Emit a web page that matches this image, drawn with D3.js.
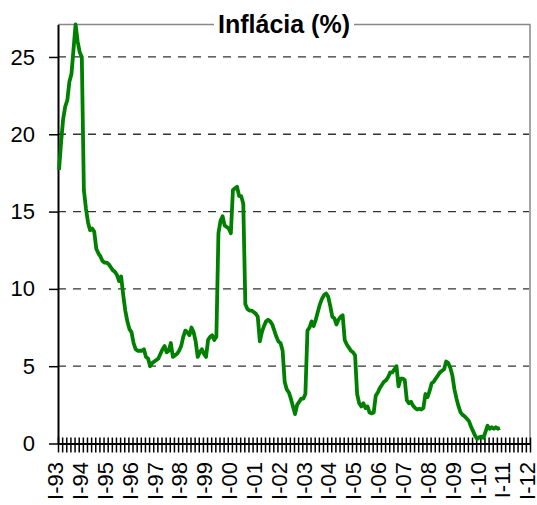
<!DOCTYPE html>
<html><head><meta charset="utf-8">
<script src="https://cdn.jsdelivr.net/npm/d3@7"></script>
<style>
html,body{margin:0;padding:0;background:#fff;}
svg{display:block;font-family:"Liberation Sans",Arial,sans-serif;}
</style>
</head><body>
<svg id="chart" width="537" height="505"></svg>
<script>
// ---- data ----
const chartTitle = "Inflácia (%)";
const yearLabels = ["I-93","I-94","I-95","I-96","I-97","I-98","I-99","I-00","I-01","I-02",
                    "I-03","I-04","I-05","I-06","I-07","I-08","I-09","I-10","I-11","I-12"];
const yTicks = [0, 5, 10, 15, 20, 25];
const yMax = 27.1;
// monthly year-on-year inflation, Jan 1993 .. Oct 2010
const inflation = [
  17.7, 19.5, 21.0, 21.8, 22.2, 23.4, 23.9, 25.5, 27.1, 26.0, 25.3, 25.0,   // 1993
  16.4, 15.2, 14.3, 13.8, 13.9, 13.7, 12.6, 12.3, 12.1, 11.8, 11.7, 11.7,   // 1994
  11.6, 11.4, 11.2, 11.1, 10.9, 10.5, 10.8, 9.6, 8.6, 7.9, 7.4, 7.2,        // 1995
  6.5, 6.1, 6.0, 6.0, 6.0, 6.1, 5.6, 5.5, 5.0, 5.2, 5.3, 5.4,               // 1996
  5.5, 5.8, 6.1, 6.3, 5.9, 6.0, 6.5, 5.6, 5.7, 5.8, 6.0, 6.3,               // 1997
  6.9, 7.3, 7.2, 7.0, 7.5, 7.2, 6.6, 5.6, 5.9, 6.1, 5.8, 5.6,               // 1998
  6.7, 6.9, 7.0, 6.7, 6.9, 13.6, 14.4, 14.7, 14.1, 14.0, 13.9, 13.6,        // 1999
  16.4, 16.5, 16.6, 16.0, 16.0, 15.5, 9.0, 8.7, 8.6, 8.6, 8.5, 8.4,         // 2000
  8.2, 6.6, 7.2, 7.6, 7.9, 8.0, 7.9, 7.7, 7.3, 6.9, 6.6, 6.5,               // 2001
  6.0, 4.0, 3.5, 3.3, 2.9, 2.4, 1.9, 2.5, 2.7, 2.9, 2.9, 3.2,               // 2002
  7.3, 7.5, 7.9, 7.6, 8.0, 8.5, 9.0, 9.35, 9.6, 9.7, 9.5, 8.9,              // 2003
  8.2, 8.1, 7.7, 8.0, 8.2, 8.3, 6.7, 6.4, 6.2, 6.0, 5.9, 5.7,               // 2004
  3.2, 2.6, 2.4, 2.6, 2.3, 2.4, 2.0, 1.95, 2.0, 3.1, 3.3, 3.6,              // 2005
  3.8, 4.0, 4.1, 4.3, 4.6, 4.6, 4.8, 5.0, 3.7, 4.2, 4.2, 4.1,               // 2006
  2.8, 2.6, 2.7, 2.45, 2.3, 2.2, 2.25, 2.2, 2.3, 3.2, 3.0, 3.4,             // 2007
  3.9, 4.0, 4.2, 4.4, 4.6, 4.7, 4.8, 5.3, 5.2, 4.9, 4.4, 3.5,               // 2008
  2.9, 2.4, 2.0, 1.85, 1.75, 1.6, 1.45, 1.1, 0.8, 0.5, 0.3, 0.4,            // 2009
  0.45, 0.37, 0.75, 1.15, 0.95, 1.05, 0.95, 1.05, 0.95, 1.0                 // 2010
];

// ---- layout ----
const svg = d3.select("#chart");
const plotLeft = 58, plotRight = 530, plotTop = 24.5, plotBottom = 443.5;
const months = (yearLabels.length - 1) * 12;

const x = d3.scaleLinear().domain([0, months]).range([plotLeft, plotRight]);
const y = d3.scaleLinear().domain([0, yMax]).range([plotBottom, plotTop]);

// gridlines
svg.append("g").selectAll("line")
  .data(yTicks.filter(v => v > 0))
  .join("line")
  .attr("x1", plotLeft).attr("x2", plotRight - 1)
  .attr("y1", d => y(d)).attr("y2", d => y(d))
  .attr("stroke", "#333").attr("stroke-width", 1.3)
  .attr("stroke-dasharray", "8,7");

// title
const titleText = svg.append("text")
  .attr("x", 284).attr("y", 33)
  .attr("text-anchor", "middle")
  .attr("font-weight", "bold")
  .attr("font-size", 25)
  .attr("fill", "#000")
  .text(chartTitle);
const tb = titleText.node().getBBox();

// frame (top + right, grey)
svg.append("path")
  .attr("d", `M${plotLeft},${plotTop}H${tb.x - 4}M${tb.x + tb.width + 4},${plotTop}H${plotRight}V${plotBottom}`)
  .attr("fill", "none").attr("stroke", "#888").attr("stroke-width", 1.5);

// y axis
const yAxis = svg.append("g")
  .attr("transform", `translate(${plotLeft},0)`)
  .call(d3.axisLeft(y).tickValues(yTicks).tickSize(9).tickSizeOuter(0).tickPadding(14));
yAxis.select(".domain").attr("stroke", "#000").attr("stroke-width", 2);
yAxis.selectAll(".tick line").attr("stroke", "#000").attr("stroke-width", 1.5);
yAxis.selectAll(".tick text").attr("font-size", 22).attr("fill", "#000")
  .attr("font-family", "'Liberation Sans',Arial,sans-serif");

// x axis ticks (every 2 months), crossing the axis
const minorTicks = d3.range(0, months + 1, 2);
const xAxis = svg.append("g")
  .attr("transform", `translate(0,${plotBottom})`)
  .call(d3.axisBottom(x).tickValues(minorTicks).tickSize(9).tickSizeOuter(0).tickFormat(""));
xAxis.select(".domain").attr("stroke", "#000").attr("stroke-width", 2);
xAxis.selectAll(".tick line").attr("y1", -6).attr("stroke", "#000").attr("stroke-width", 1.5);

// x labels (yearly)
const xLab = svg.append("g")
  .attr("transform", `translate(0,${plotBottom})`)
  .call(d3.axisBottom(x).tickValues(d3.range(0, months + 1, 12))
        .tickSize(0).tickFormat((d, i) => yearLabels[i]));
xLab.select(".domain").remove();
xLab.selectAll(".tick text")
  .attr("transform", "rotate(-90)")
  .attr("x", -18.5).attr("y", -3).attr("dy", "0.35em")
  .attr("text-anchor", "end")
  .attr("font-size", 22).attr("fill", "#000")
  .attr("font-family", "'Liberation Sans',Arial,sans-serif");

// line
const line = d3.line().x((d, i) => x(i + 0.5)).y(d => y(d));
svg.append("path")
  .datum(inflation)
  .attr("d", line)
  .attr("fill", "none")
  .attr("stroke", "#008000")
  .attr("stroke-width", 3.8)
  .attr("stroke-linejoin", "round");
</script>
</body></html>
